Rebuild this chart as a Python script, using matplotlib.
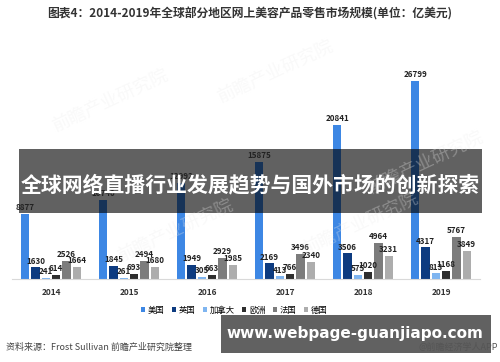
import numpy as np
import matplotlib
matplotlib.use("Agg")
import matplotlib.pyplot as plt
from matplotlib.patches import Rectangle

plt.rcParams['font.family'] = ['Noto Sans CJK SC', 'DejaVu Sans']

years = ['2014', '2015', '2016', '2017', '2018', '2019']
regions = ['美国', '英国', '加拿大', '欧洲', '法国', '德国']
us = [8877, 10740, 12992, 15875, 20841, 26799]
uk = [1630, 1845, 1949, 2169, 3506, 4317]
canada = [241, 261, 305, 413, 575, 813]
europe = [614, 693, 663, 766, 1020, 1168]
france = [2526, 2494, 2929, 3496, 4964, 5767]
germany = [1664, 1680, 1985, 2340, 3231, 3849]

series = [us, uk, canada, europe, france, germany]
colors = ['#3d87e4', '#0d3b80', '#7fb5f0', '#2e2e2e', '#7c7c7c', '#adadad']

fig = plt.figure(figsize=(5, 3.62), dpi=100)
ax = fig.add_axes([0.024, 0.228, 0.936, 0.606])

x = np.arange(len(years))
slot = 0.132
width = 0.105
for i, (vals, c) in enumerate(zip(series, colors)):
    pos = x + (i - 2.5) * slot
    ax.bar(pos, vals, width=width, color=c, label=regions[i], zorder=2)
    for px, v in zip(pos, vals):
        ax.text(px, v + 250, str(v), ha='center', va='bottom',
                fontsize=5.8, fontweight='bold', color='#222222', zorder=3)

ax.set_xlim(-0.5, 5.5)
ax.set_ylim(0, 29600)
for s in ['top', 'right', 'left']:
    ax.spines[s].set_visible(False)
ax.spines['bottom'].set_color('#d9d9d9')
ax.set_yticks([])
ax.set_xticks(x)
ax.set_xticklabels(years, fontsize=6, fontweight='bold', color='#333333')
ax.tick_params(axis='x', length=0, pad=6)

ax.legend(loc='upper center', bbox_to_anchor=(0.475, -0.085), ncol=6, frameon=False,
          fontsize=6, handlelength=0.5, handleheight=0.5, handletextpad=0.3,
          columnspacing=0.9)

# faint watermarks
for wx, wy in [(0.22, 0.72), (0.55, 0.8), (0.85, 0.55), (0.35, 0.36), (0.72, 0.38)]:
    fig.text(wx, wy, '前瞻产业研究院', fontsize=13, color='#ececec', rotation=25,
             ha='center', va='center', zorder=0, alpha=0.3)

fig.text(0.5, 0.962, '图表4：2014-2019年全球部分地区网上美容产品零售市场规模(单位：亿美元)',
         ha='center', va='center', fontsize=8.5, fontweight='bold', color='#333333')

fig.text(0.012, 0.041, '资料来源：Frost Sullivan 前瞻产业研究院整理',
         ha='left', va='center', fontsize=6.5, color='#444444')

# overlay banners (above bars, value labels on top, banner text over everything)
ax.add_patch(Rectangle((0.037, 0.412), 0.926, 0.176, transform=fig.transFigure,
                       facecolor='black', alpha=0.62, zorder=2.5, clip_on=False))
ax.text(0.5, 0.49, '全球网络直播行业发展趋势与国外市场的创新探索', transform=fig.transFigure,
        ha='center', va='center', fontsize=15, fontweight='bold', color='white', zorder=5)

ax.add_patch(Rectangle((0.441, 0.025), 0.54, 0.105, transform=fig.transFigure,
                       facecolor='black', alpha=0.62, zorder=4, clip_on=False))
ax.text(0.71, 0.079, 'www.webpage-guanjiapo.com', transform=fig.transFigure,
        ha='center', va='center', fontsize=11, fontweight='bold', color='white',
        family='DejaVu Sans', zorder=5)
ax.text(0.996, 0.039, '@前瞻经济学人APP', transform=fig.transFigure, ha='right',
        va='center', fontsize=6.5, color='#555555', zorder=6)

fig.savefig('out.png', dpi=100)
